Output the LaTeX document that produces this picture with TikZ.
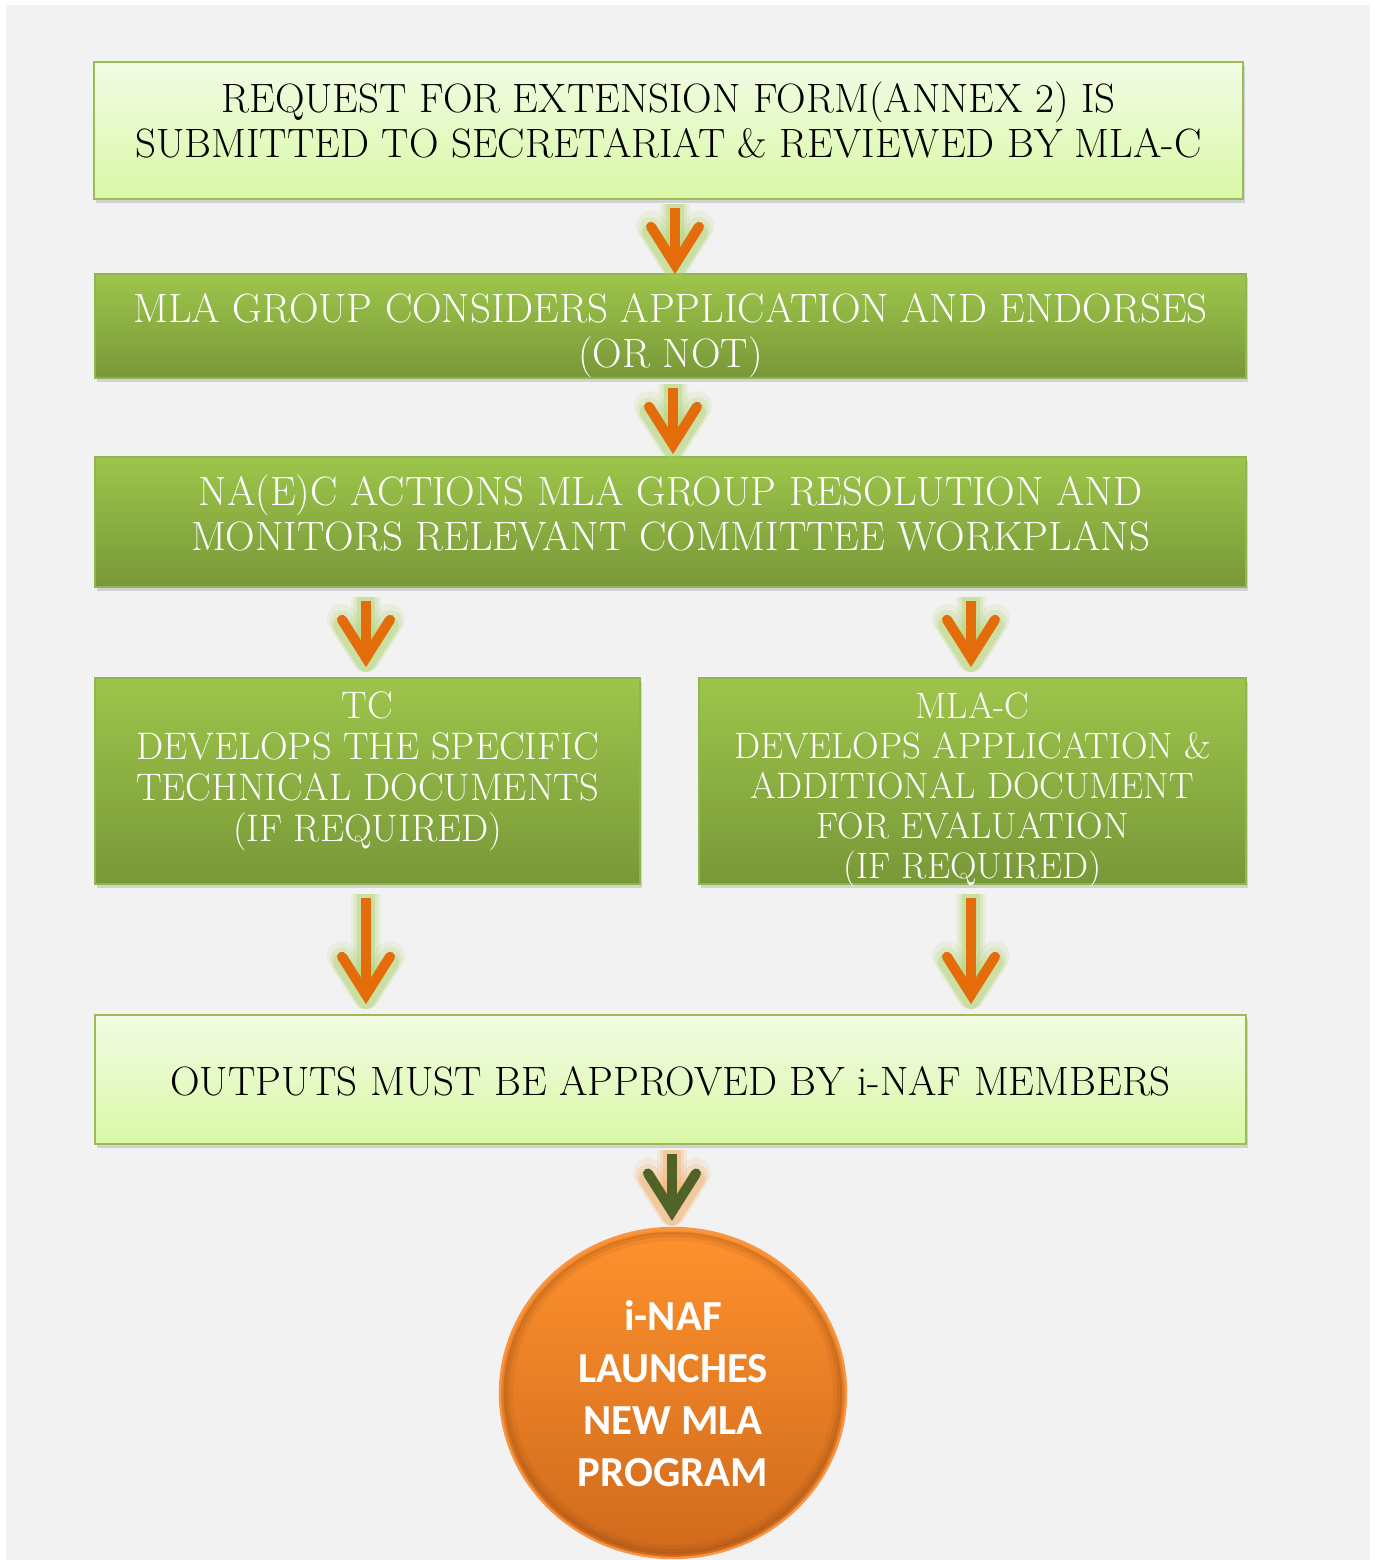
\documentclass[tikz,border=0pt]{standalone}
\usepackage{fontspec}
\newfontfamily\carlito{Carlito}
\usetikzlibrary{arrows.meta,shapes.geometric,shadows,calc}
\definecolor{bggray}{HTML}{F2F2F2}
\definecolor{lightTop}{HTML}{F2FCE4}
\definecolor{lightBot}{HTML}{D9F8A6}
\definecolor{boxline}{HTML}{9BBB59}
\definecolor{greenTop}{HTML}{9DC54B}
\definecolor{greenBot}{HTML}{789838}
\definecolor{greenLine}{HTML}{8FB550}
\definecolor{arrowOrange}{HTML}{E46C0A}
\definecolor{arrowDark}{HTML}{4F6228}
\definecolor{glowGreen}{HTML}{A3CD55}
\definecolor{glowOrange}{HTML}{F5A04C}
\definecolor{circTop}{HTML}{FF922E}
\definecolor{circBot}{HTML}{CF6A1C}
\definecolor{circLine}{HTML}{F79646}
\definecolor{circShade}{HTML}{8A4210}
\begin{document}
\begin{tikzpicture}[x=0.5pt,y=-0.5pt,
  boxshadow/.style={drop shadow={shadow xshift=1.2pt, shadow yshift=-2pt, opacity=0.28}},
  lightbox/.style={rectangle, draw=boxline, line width=0.9pt, top color=lightTop, bottom color=lightBot, inner sep=0pt, boxshadow},
  greenbox/.style={rectangle, draw=greenLine, line width=0.9pt, top color=greenTop, bottom color=greenBot, inner sep=0pt, boxshadow},
  bigtext/.style={align=center, font=\fontsize{20.5}{22.5}\selectfont, inner sep=0pt},
  smalltextA/.style={align=center, font=\fontsize{19.2}{20.5}\selectfont, inner sep=0pt},
  smalltextB/.style={align=center, font=\fontsize{18.4}{20}\selectfont, inner sep=0pt},
  circtext/.style={align=center, text=white, font=\carlito\bfseries\fontsize{21.4}{26}\selectfont, inner sep=0pt},
  arrowmain/.style={line width=5pt, line cap=butt, draw=#1,
    -{Straight Barb[length=19pt,width=24pt,line cap=round,line join=miter]}},
  arrowglow/.style={line width=#1, line cap=butt, shorten >=-2.5pt, shorten <=-2pt,
    -{Straight Barb[length=19pt,width=24pt,line cap=round,line join=round]}},
]
\useasboundingbox (0,0) rectangle (1375,1560);
\path[fill=white] (0,0) rectangle (1375,1560);
\path[fill=bggray] (6,5) rectangle (1370,1560);

% boxes
\node[lightbox, minimum width=574.5pt, minimum height=68.5pt] (b1) at (668.5,130.5) {};
\node[bigtext] (t1) at (668.5,119.5) {REQUEST FOR EXTENSION FORM(ANNEX 2) IS\\SUBMITTED TO SECRETARIAT \& REVIEWED BY MLA-C};

\node[greenbox, minimum width=575.5pt, minimum height=52pt] (b2) at (670.5,326) {};
\node[bigtext, text=white] (t2) at (670.5,335.5) {MLA GROUP CONSIDERS APPLICATION AND ENDORSES\\(OR NOT)};

\node[greenbox, minimum width=575.5pt, minimum height=65pt] (b3) at (670.5,522) {};
\node[bigtext, text=white] (t3) at (670.5,512.5) {NA(E)C ACTIONS MLA GROUP RESOLUTION AND\\MONITORS RELEVANT COMMITTEE WORKPLANS};

\node[greenbox, minimum width=272.5pt, minimum height=103pt] (b4) at (367.5,781) {};
\node[smalltextA, text=white] (t4) at (367.5,771) {TC\\DEVELOPS THE SPECIFIC\\TECHNICAL DOCUMENTS\\(IF REQUIRED)};

\node[greenbox, minimum width=273.5pt, minimum height=103pt] (b5) at (972.5,781) {};
\node[smalltextB, text=white] (t5) at (972.5,790) {MLA-C\\DEVELOPS APPLICATION \&\\ADDITIONAL DOCUMENT\\FOR EVALUATION\\(IF REQUIRED)};

\node[lightbox, minimum width=575.5pt, minimum height=64.5pt] (b6) at (670.5,1079.5) {};
\node[bigtext] (t6) at (670.5,1081) {OUTPUTS MUST BE APPROVED BY i-NAF MEMBERS};

% circle
\node[ellipse, draw=circLine, line width=1.2pt, top color=circTop, bottom color=circBot,
      minimum width=173pt, minimum height=165pt, inner sep=0pt] (c) at (673,1393) {};
\draw[circShade, opacity=0.10, line width=4pt] (c.center) ellipse (164 and 156);
\draw[circShade, opacity=0.14, line width=2.5pt] (c.center) ellipse (166.5 and 158.5);
\draw[circShade, opacity=0.18, line width=1.2pt] (c.center) ellipse (168.5 and 160.5);
\node[circtext] (ct) at (673,1394) {i-NAF\\LAUNCHES\\NEW MLA\\PROGRAM};

% arrow end points
\coordinate (s1) at ($(b1.south)+(6.5,8)$);        \coordinate (e1) at ($(b2.north)+(4.5,1)$);
\coordinate (s2) at ($(b2.south)+(2.5,9)$);        \coordinate (e2) at ($(b3.north)+(2.5,-2)$);
\coordinate (s3) at ($(b3.south -| b4.north)+(-1.5,13)$); \coordinate (e3) at ($(b4.north)+(-1.5,-10)$);
\coordinate (s4) at ($(b3.south -| b5.north)+(-1.5,13)$); \coordinate (e4) at ($(b5.north)+(-1.5,-10)$);
\coordinate (s5) at ($(b4.south)+(-1.5,13)$);      \coordinate (e5) at ($(b6.north -| b4.south)+(-1.5,-10)$);
\coordinate (s6) at ($(b5.south)+(-1.5,13)$);      \coordinate (e6) at ($(b6.north -| b5.south)+(-1.5,-10)$);
\coordinate (s7) at ($(b6.south)+(1.5,9)$);        \coordinate (e7) at ($(c.north)+(-1,-6)$);

\foreach \i in {1,...,6}{
  \draw[arrowglow=15pt, draw=glowGreen, draw opacity=0.12] (s\i) -- (e\i);
  \draw[arrowglow=12pt, draw=glowGreen, draw opacity=0.18] (s\i) -- (e\i);
  \draw[arrowglow=9pt, draw=glowGreen, draw opacity=0.3] (s\i) -- (e\i);
  \draw[arrowmain=arrowOrange] (s\i) -- (e\i);
}
\draw[arrowglow=15pt, draw=glowOrange, draw opacity=0.12] (s7) -- (e7);
\draw[arrowglow=12pt, draw=glowOrange, draw opacity=0.18] (s7) -- (e7);
\draw[arrowglow=9pt, draw=glowOrange, draw opacity=0.3] (s7) -- (e7);
\draw[arrowmain=arrowDark] (s7) -- (e7);
\end{tikzpicture}
\end{document}
